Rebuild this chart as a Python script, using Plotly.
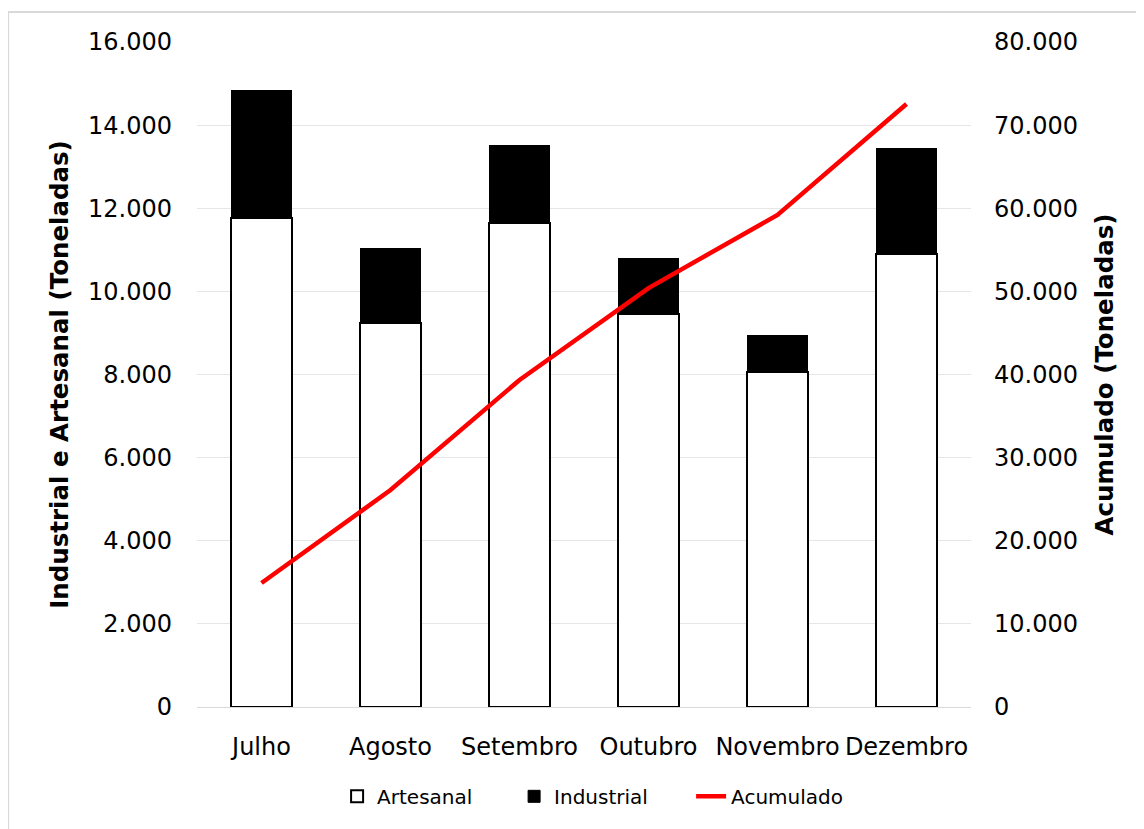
import plotly.graph_objects as go

# ── Data ────────────────────────────────────────────────────────
meses = ["Julho", "Agosto", "Setembro", "Outubro", "Novembro", "Dezembro"]
artesanal = [11765, 9240, 11645, 9455, 8060, 10900]
industrial = [3080, 1780, 1855, 1345, 890, 2530]
acumulado = [14920, 26100, 39340, 50400, 59190, 72540]

FONT = "DejaVu Sans"

fig = go.Figure()
fig.add_trace(go.Bar(
    x=meses, y=artesanal, name="Artesanal",
    marker=dict(color="white", line=dict(color="black", width=2)),
))
fig.add_trace(go.Bar(
    x=meses, y=industrial, name="Industrial",
    marker=dict(color="black", line=dict(color="black", width=1)),
))
fig.add_trace(go.Scatter(
    x=meses, y=acumulado, name="Acumulado", yaxis="y2",
    mode="lines", line=dict(color="#ff0000", width=4.5),
))

fig.update_layout(
    width=1144, height=829,
    barmode="stack", bargap=0.53,
    separators=",.",
    paper_bgcolor="white", plot_bgcolor="white",
    font=dict(family=FONT, size=20, color="black"),
    # page body adds an 8px offset, margins compensate for it
    margin=dict(l=189, r=181, t=34, b=130, autoexpand=False),
    xaxis=dict(
        showline=True, linecolor="#d9d9d9", linewidth=1, automargin=False,
        tickfont=dict(size=24), ticklabelstandoff=18,
    ),
    yaxis=dict(
        range=[0, 16000], dtick=2000, tickformat=",d", automargin=False,
        showgrid=True, gridcolor="#e6e6e6", gridwidth=1, zeroline=False,
        tickfont=dict(size=24), ticklabelstandoff=24,
        title=dict(text="<b>Industrial e Artesanal (Toneladas)</b>",
                   font=dict(size=24.5), standoff=12),
    ),
    yaxis2=dict(
        range=[0, 80000], dtick=10000, tickformat=",d", automargin=False,
        overlaying="y", side="right", showgrid=False, zeroline=False,
        tickfont=dict(size=24), ticklabelstandoff=22,
        title=dict(text="<b>Acumulado (Toneladas)</b>",
                   font=dict(size=24.5), standoff=18),
    ),
    legend=dict(
        orientation="h", x=0.181, xanchor="left", y=-0.105, yanchor="top",
        font=dict(size=20), traceorder="normal", entrywidth=132,
    ),
    shapes=[dict(
        type="rect", xref="paper", yref="paper",
        x0=-0.244, x1=1.4, y0=-0.4, y1=1.045,
        line=dict(color="#d9d9d9", width=2), layer="below",
    )],
)

fig.write_html("out.html")
